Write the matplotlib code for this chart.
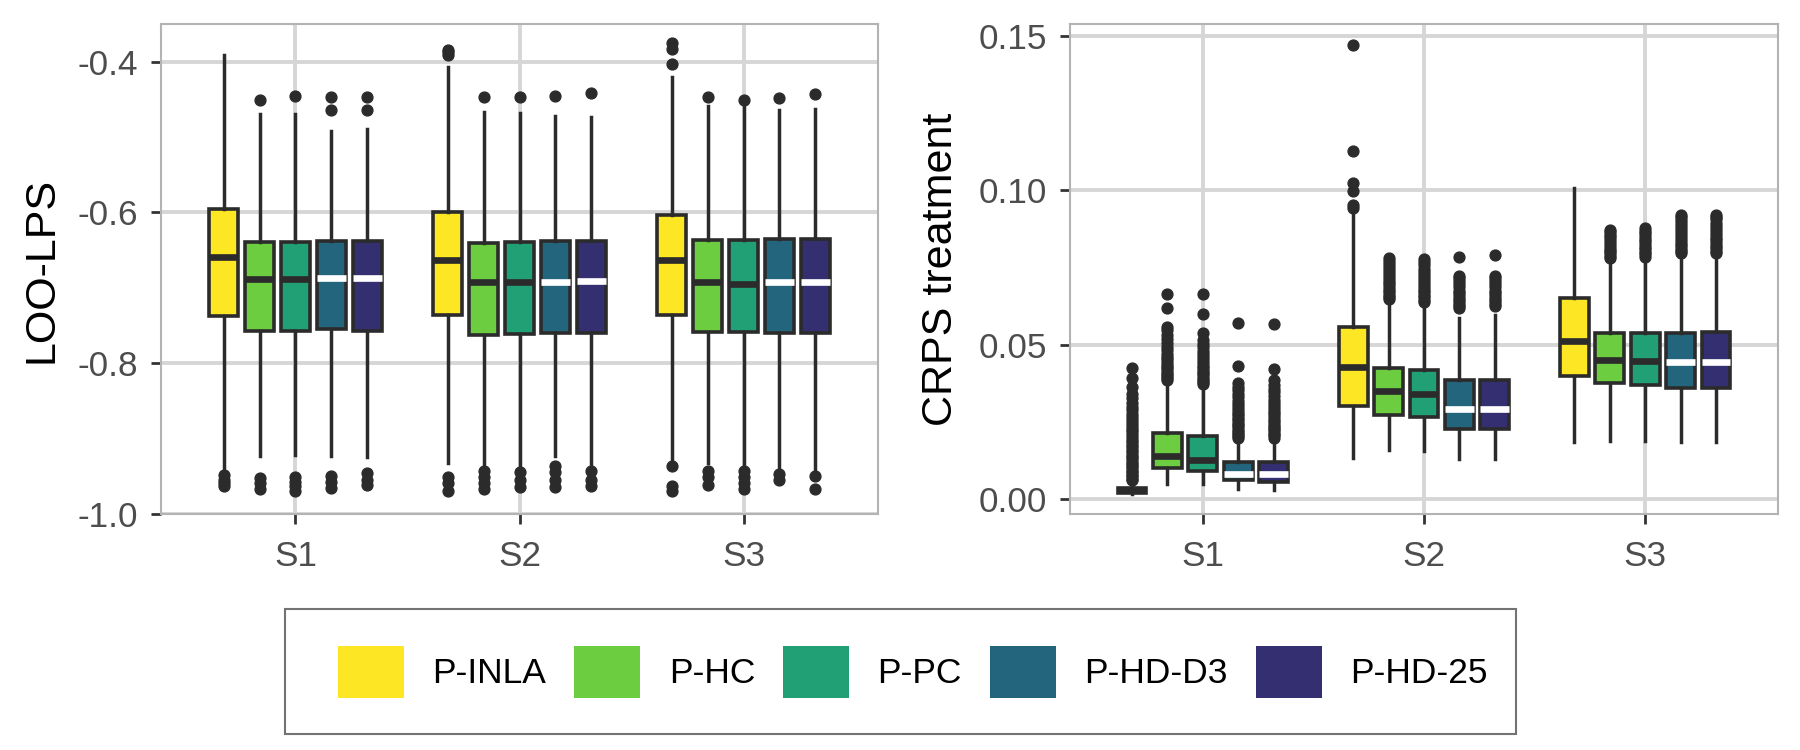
# %% imports
import matplotlib as mpl
from matplotlib import pyplot as plt
from matplotlib.patches import Patch, Rectangle

mpl.rcParams['font.family'] = ['Liberation Sans', 'DejaVu Sans']
mpl.rcParams['axes.unicode_minus'] = False

# %% data (rows = scenario S1..S3, cols = method)
scenarios = ['S1', 'S2', 'S3']
methods = ['P-INLA', 'P-HC', 'P-PC', 'P-HD-D3', 'P-HD-25']
colours = ['#FDE725', '#6CCD40', '#21A076', '#22657D', '#332F71']
median_colours = ['#2B2B2B', '#2B2B2B', '#2B2B2B', 'white', 'white']

# LOO-LPS
lps_whishi = [[-0.391, -0.470, -0.469, -0.492, -0.489],
              [-0.407, -0.467, -0.468, -0.472, -0.474],
              [-0.421, -0.459, -0.458, -0.465, -0.463]]
lps_q3 = [[-0.596, -0.639, -0.640, -0.638, -0.638],
          [-0.600, -0.641, -0.639, -0.638, -0.638],
          [-0.604, -0.637, -0.637, -0.636, -0.636]]
lps_med = [[-0.659, -0.689, -0.689, -0.688, -0.688],
           [-0.663, -0.692, -0.692, -0.692, -0.691],
           [-0.663, -0.692, -0.695, -0.693, -0.693]]
lps_q1 = [[-0.738, -0.758, -0.758, -0.755, -0.758],
          [-0.737, -0.763, -0.762, -0.760, -0.760],
          [-0.736, -0.759, -0.759, -0.760, -0.761]]
lps_whislo = [[-0.944, -0.923, -0.922, -0.923, -0.925],
              [-0.933, -0.940, -0.940, -0.923, -0.940],
              [-0.930, -0.933, -0.938, -0.941, -0.944]]
lps_fliers = [
    [[-0.949, -0.955, -0.960, -0.964],
     [-0.4506, -0.953, -0.960, -0.968],
     [-0.4453, -0.952, -0.958, -0.964, -0.970],
     [-0.447, -0.465, -0.950, -0.958, -0.966],
     [-0.4475, -0.464, -0.946, -0.955, -0.962]],
    [[-0.3845, -0.388, -0.391, -0.952, -0.960, -0.970],
     [-0.4466, -0.944, -0.952, -0.960, -0.968],
     [-0.4475, -0.945, -0.955, -0.965],
     [-0.4453, -0.937, -0.945, -0.955, -0.965],
     [-0.4418, -0.944, -0.955, -0.963]],
    [[-0.3757, -0.3836, -0.403, -0.9375, -0.964, -0.970],
     [-0.4466, -0.944, -0.952, -0.962],
     [-0.4506, -0.944, -0.952, -0.960, -0.968],
     [-0.4484, -0.948, -0.956],
     [-0.4426, -0.950, -0.968]],
]

# CRPS treatment
crps_whishi = [[0.0055, 0.0375, 0.0364, 0.0191, 0.0193],
               [0.0920, 0.0636, 0.0628, 0.0585, 0.0596],
               [0.1006, 0.0769, 0.0775, 0.0790, 0.0790]]
crps_q3 = [[0.0037, 0.0213, 0.0204, 0.0121, 0.0121],
           [0.0556, 0.0423, 0.0418, 0.0385, 0.0386],
           [0.0650, 0.0539, 0.0539, 0.0537, 0.0542]]
crps_med = [[0.0029, 0.0140, 0.0126, 0.0081, 0.0081],
            [0.0428, 0.0351, 0.0340, 0.0290, 0.0290],
            [0.0513, 0.0450, 0.0446, 0.0442, 0.0442]]
crps_q1 = [[0.0021, 0.0099, 0.0092, 0.0062, 0.0056],
           [0.0302, 0.0272, 0.0267, 0.0226, 0.0226],
           [0.0398, 0.0375, 0.0368, 0.0358, 0.0359]]
crps_whislo = [[0.0017, 0.0049, 0.0049, 0.0031, 0.0029],
               [0.0132, 0.0159, 0.0156, 0.0128, 0.0128],
               [0.0186, 0.0189, 0.0189, 0.0186, 0.0186]]
crps_fliers = [
    [[0.0060, 0.0066, 0.0073, 0.0079, 0.0086, 0.0092, 0.0099, 0.0106, 0.0113,
      0.0121, 0.0128, 0.0136, 0.0143, 0.0151, 0.0159, 0.0167, 0.0175, 0.0184,
      0.0192, 0.0201, 0.0210, 0.0219, 0.0228, 0.0237, 0.0247, 0.0256, 0.0266,
      0.0276, 0.0287, 0.0298, 0.0311, 0.0326, 0.0341, 0.0364, 0.0391, 0.0423],
     [0.0385, 0.0391, 0.0398, 0.0405, 0.0412, 0.0420, 0.0427, 0.0435, 0.0443,
      0.0452, 0.0461, 0.0470, 0.0481, 0.0493, 0.0505, 0.0517, 0.0531, 0.0546,
      0.0558, 0.0618, 0.0664],
     [0.0372, 0.0378, 0.0385, 0.0392, 0.0400, 0.0407, 0.0415, 0.0423, 0.0432,
      0.0441, 0.0450, 0.0459, 0.0469, 0.0480, 0.0491, 0.0503, 0.0515, 0.0537,
      0.0598, 0.0663],
     [0.0199, 0.0205, 0.0211, 0.0218, 0.0225, 0.0232, 0.0239, 0.0247, 0.0255,
      0.0263, 0.0271, 0.0280, 0.0289, 0.0298, 0.0308, 0.0318, 0.0329, 0.0340,
      0.0352, 0.0364, 0.0375, 0.0431, 0.0569],
     [0.0199, 0.0206, 0.0212, 0.0219, 0.0226, 0.0233, 0.0241, 0.0249, 0.0257,
      0.0265, 0.0274, 0.0283, 0.0292, 0.0302, 0.0312, 0.0322, 0.0333, 0.0345,
      0.0357, 0.0370, 0.0384, 0.0422, 0.0567]],
    [[0.0941, 0.0952, 0.0996, 0.1022, 0.1128, 0.1470],
     [0.0647, 0.0654, 0.0662, 0.0670, 0.0678, 0.0686, 0.0695, 0.0704, 0.0713,
      0.0722, 0.0731, 0.0741, 0.0751, 0.0762, 0.0771, 0.0779],
     [0.0638, 0.0645, 0.0653, 0.0661, 0.0669, 0.0678, 0.0687, 0.0696, 0.0705,
      0.0715, 0.0725, 0.0735, 0.0746, 0.0757, 0.0767, 0.0776],
     [0.0617, 0.0624, 0.0632, 0.0640, 0.0648, 0.0657, 0.0666, 0.0675, 0.0685,
      0.0695, 0.0706, 0.0714, 0.0721, 0.0783],
     [0.0625, 0.0632, 0.0640, 0.0648, 0.0657, 0.0666, 0.0675, 0.0685, 0.0695,
      0.0706, 0.0714, 0.0721, 0.0789]],
    [[],
     [0.0780, 0.0787, 0.0795, 0.0803, 0.0811, 0.0820, 0.0829, 0.0838, 0.0847,
      0.0856, 0.0864, 0.0871],
     [0.0785, 0.0792, 0.0800, 0.0808, 0.0816, 0.0825, 0.0834, 0.0843, 0.0852,
      0.0861, 0.0869, 0.0876],
     [0.0796, 0.0803, 0.0811, 0.0819, 0.0827, 0.0836, 0.0845, 0.0854, 0.0864,
      0.0874, 0.0884, 0.0894, 0.0904, 0.0913, 0.0920],
     [0.0796, 0.0804, 0.0812, 0.0820, 0.0828, 0.0837, 0.0846, 0.0855, 0.0865,
      0.0875, 0.0885, 0.0895, 0.0905, 0.0914, 0.0920]],
]

# %% plotting functions
edge = '#2B2B2B'


def draw_panel(ax, q1, med, q3, lo, hi, fl):
    """dodged boxplots, one bxp call per method"""
    for j in range(len(methods)):
        stats = []
        for i in range(len(scenarios)):
            stats.append(dict(med=med[i][j], q1=q1[i][j], q3=q3[i][j],
                              whislo=lo[i][j], whishi=hi[i][j], fliers=fl[i][j]))
        pos = [i + 1 + (j - 2) * 0.16 for i in range(len(scenarios))]
        ax.bxp(stats, positions=pos, widths=0.13, patch_artist=True,
               showcaps=False, manage_ticks=False,
               boxprops=dict(facecolor=colours[j], edgecolor=edge, linewidth=2.6),
               medianprops=dict(color=median_colours[j], linewidth=4.8,
                                solid_capstyle='butt'),
               whiskerprops=dict(color=edge, linewidth=2.5),
               flierprops=dict(marker='o', markersize=7.8, markerfacecolor=edge,
                               markeredgecolor=edge))


def style_axes(ax, yticks, fmt):
    ax.set_xlim(0.4, 3.6)
    ax.set_xticks([1, 2, 3])
    ax.set_xticklabels(scenarios)
    ax.set_yticks(yticks)
    ax.set_yticklabels([fmt % t for t in yticks])
    ax.set_axisbelow(True)
    ax.grid(True, color='#D6D6D6', linewidth=2.8)
    for s in ax.spines.values():
        s.set_color('#B3B3B3')
        s.set_linewidth(1.5)
    ax.tick_params(axis='both', colors='#333333', length=7.5, width=2,
                   labelsize=25.3, labelcolor='#4D4D4D')
    ax.tick_params(axis='y', pad=9)
    ax.tick_params(axis='x', pad=11)


# %% figure
fig = plt.figure(figsize=(18, 7.5), dpi=100)
ax1 = fig.add_axes([161 / 1800, 1 - 514 / 750, 717 / 1800, 490 / 750])
ax2 = fig.add_axes([1070 / 1800, 1 - 514 / 750, 708 / 1800, 490 / 750])

draw_panel(ax1, lps_q1, lps_med, lps_q3, lps_whislo, lps_whishi, lps_fliers)
style_axes(ax1, [-1.0, -0.8, -0.6, -0.4], '%.1f')
ax1.set_ylim(-1.0006, -0.3502)

draw_panel(ax2, crps_q1, crps_med, crps_q3, crps_whislo, crps_whishi, crps_fliers)
style_axes(ax2, [0.0, 0.05, 0.10, 0.15], '%.2f')
ax2.set_ylim(-0.00486, 0.1538)

fig.text(42 / 1800, 1 - 270 / 750, 'LOO-LPS', rotation=90, fontsize=31,
         ha='center', va='center')
fig.text(941 / 1800, 1 - 269 / 750, 'CRPS treatment', rotation=90, fontsize=31,
         ha='center', va='center')

# legend, with a hand drawn frame round it
handles = [Patch(facecolor=c, edgecolor='none') for c in colours]
fig.legend(handles, methods, loc='center left',
           bbox_to_anchor=(338 / 1800, 1 - 672 / 750), ncol=5, frameon=False,
           fontsize=25.5, borderpad=0, borderaxespad=0, handlelength=1.86,
           handleheight=1.86, handletextpad=0.8, columnspacing=0.8)
fig.patches.append(Rectangle((285 / 1800, 1 - 734 / 750), 1231 / 1800, 125 / 750,
                             transform=fig.transFigure, fill=False,
                             edgecolor='#737373', linewidth=1.5))

plt.savefig('out.png', dpi=100)
